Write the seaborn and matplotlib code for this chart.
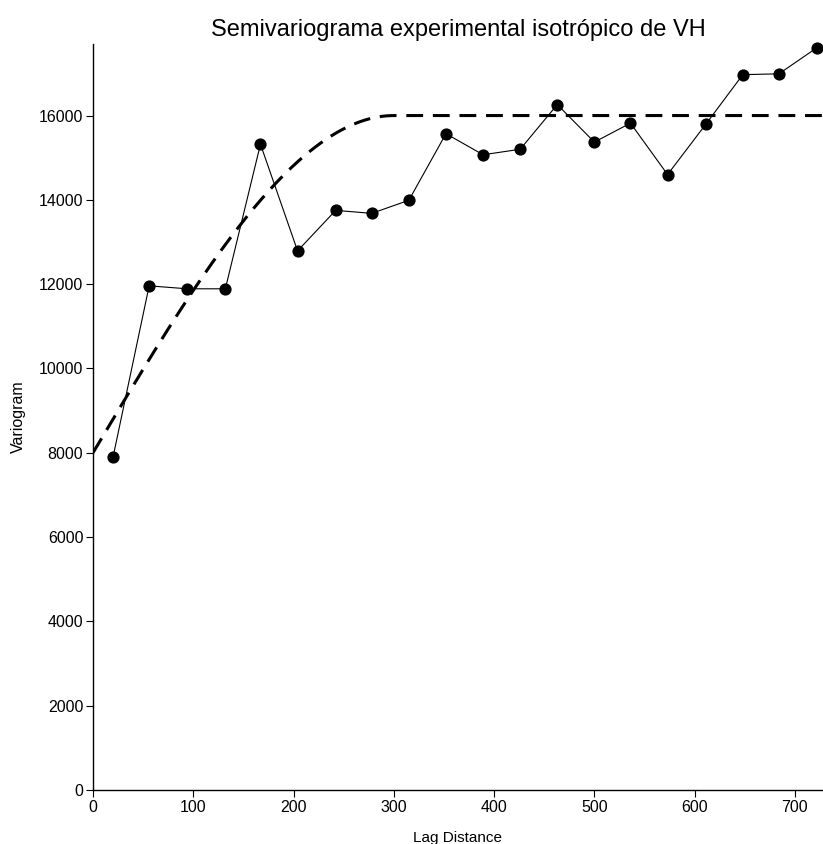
import numpy as np
import pandas as pd
import matplotlib
matplotlib.use("Agg")
import matplotlib.pyplot as plt
import seaborn as sns

# Experimental semivariogram: lag distances and semivariance values
lag_distance = [20, 56, 94, 132, 167, 204, 242, 278, 315, 352,
                389, 426, 463, 500, 536, 573, 611, 648, 684, 722]
semivariance = [7900, 11960, 11890, 11890, 15320, 12790, 13750, 13680, 13990, 15570,
                15070, 15200, 16260, 15370, 15820, 14600, 15790, 16970, 16990, 17610]

# Fitted spherical model parameters
nugget = 8000
sill = 16000
model_range = 300

x_ticks = [0, 100, 200, 300, 400, 500, 600, 700]
y_ticks = [0, 2000, 4000, 6000, 8000, 10000, 12000, 14000, 16000]

title = "Semivariograma experimental isotrópico de VH"
x_label = "Lag Distance"
y_label = "Variogram"


def spherical(h, c0, c, a):
    h = np.asarray(h, dtype=float)
    r = np.minimum(h / a, 1.0)
    return c0 + (c - c0) * (1.5 * r - 0.5 * r ** 3)


sns.set_theme(style="ticks")
plt.rcParams["font.family"] = ["Liberation Sans", "DejaVu Sans"]
plt.rcParams["text.color"] = "black"
plt.rcParams["axes.labelcolor"] = "black"

fig = plt.figure(figsize=(8.23, 8.44), dpi=100)
ax = fig.add_axes([0.113, 0.064, 0.887, 0.884])

h_model = np.linspace(0, 730, 400)
model_df = pd.DataFrame({"h": h_model, "gamma": spherical(h_model, nugget, sill, model_range)})
exp_df = pd.DataFrame({"h": lag_distance, "gamma": semivariance})

sns.lineplot(data=model_df, x="h", y="gamma", ax=ax, color="black",
             linewidth=2.2, dashes=False, zorder=2)
ax.lines[-1].set_dashes((5.5, 3.2))

sns.lineplot(data=exp_df, x="h", y="gamma", ax=ax, color="black",
             linewidth=0.8, marker="o", markersize=8.8, markeredgewidth=0,
             markerfacecolor="black", zorder=3, clip_on=False)

ax.set_xlim(0, 728)
ax.set_ylim(0, 17700)
ax.set_xticks(x_ticks)
ax.set_yticks(y_ticks)
ax.set_xlabel(x_label, fontsize=11, labelpad=12, color="black")
ax.set_ylabel(y_label, fontsize=11.5, labelpad=9, color="black")
ax.set_title(title, fontsize=17, pad=6, color="black")

for side in ["top", "right"]:
    ax.spines[side].set_visible(False)
for side in ["left", "bottom"]:
    ax.spines[side].set_linewidth(1.0)
    ax.spines[side].set_color("black")
ax.tick_params(axis="both", direction="out", length=5, width=0.8,
               labelsize=11.5, colors="black", pad=2)

fig.savefig("out.png", dpi=100)
